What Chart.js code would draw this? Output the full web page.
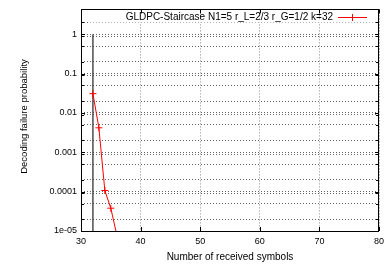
<!DOCTYPE html>
<html>
<head>
<meta charset="utf-8">
<script src="https://cdn.jsdelivr.net/npm/chart.js@4.4.1/dist/chart.umd.min.js"></script>
<style>
  html, body { margin: 0; padding: 0; background: #fff; }
  #wrap { width: 390px; height: 264px; }
</style>
</head>
<body>
<div id="wrap"><canvas id="chart" width="390" height="264"></canvas></div>
<script>
// Data
const received = [32, 33, 34, 35, 36];
const failureProb = [0.031, 0.0042, 0.000107, 0.000038, 0.000008];
const kLineX = [32, 32];
const kLineY = [1, 0.00001];
const seriesLabel = 'GLDPC-Staircase N1=5 r_L=2/3 r_G=1/2 k=32';

const xTicks = [30, 40, 50, 60, 70, 80];
const yTickValues = [1, 0.1, 0.01, 0.001, 0.0001, 0.00001];
const yTickLabels = ['1', '0.1', '0.01', '0.001', '0.0001', '1e-05'];
const yMinorMult = [0.9, 0.5, 0.2];

const FONT = 'Liberation Sans, Arial, sans-serif';

// all grid lines on the y axis: decades plus minor lines
const yGrid = [2];
yTickValues.forEach(v => {
    yGrid.push(v);
    if (v > 0.00001) yMinorMult.forEach(m => yGrid.push(v * m));
});

function isDecade(v) {
    return yTickValues.findIndex(t => Math.abs(Math.log10(v) - Math.log10(t)) < 1e-6);
}

// Frame, inward ticks, legend and y title
const framePlugin = {
    id: 'frame',
    afterDatasetsDraw(chart) {
        const ctx = chart.ctx;
        const a = chart.chartArea;
        const xs = chart.scales.x;
        const ys = chart.scales.y;
        ctx.save();

        // legend
        ctx.fillStyle = '#fff';
        ctx.fillRect(89, 19.5, 284, 3);
        ctx.fillStyle = '#000';
        ctx.font = '10px ' + FONT;
        ctx.textAlign = 'right';
        ctx.textBaseline = 'middle';
        ctx.fillText(chart.data.datasets[0].label, 333, 17);
        ctx.strokeStyle = '#ff0000';
        ctx.lineWidth = 1;
        ctx.beginPath();
        ctx.moveTo(338, 17.5);
        ctx.lineTo(367, 17.5);
        ctx.moveTo(352.5, 14);
        ctx.lineTo(352.5, 21);
        ctx.stroke();

        // ticks
        ctx.strokeStyle = '#000';
        ctx.beginPath();
        xTicks.forEach(v => {
            const px = Math.round(xs.getPixelForValue(v)) + 0.5;
            ctx.moveTo(px, a.bottom);
            ctx.lineTo(px, a.bottom - 4);
            ctx.moveTo(px, a.top);
            ctx.lineTo(px, a.top + 4);
        });
        yGrid.forEach(v => {
            const py = Math.round(ys.getPixelForValue(v)) + 0.5;
            if (py < a.top || py > a.bottom) return;
            const len = isDecade(v) >= 0 ? 4 : 3;
            ctx.moveTo(a.left, py);
            ctx.lineTo(a.left + len, py);
            ctx.moveTo(a.right, py);
            ctx.lineTo(a.right - len, py);
        });
        ctx.stroke();

        // frame
        ctx.strokeRect(Math.round(a.left) + 0.5, Math.round(a.top) + 0.5,
            Math.round(a.right - a.left) - 1, Math.round(a.bottom - a.top));

        // y title
        ctx.translate(24, 116.5);
        ctx.rotate(-Math.PI / 2);
        ctx.textAlign = 'center';
        ctx.font = '9.5px ' + FONT;
        ctx.fillText('Decoding failure probability', 0, 0);
        ctx.restore();
    }
};

const ctx = document.getElementById('chart').getContext('2d');
const chart = new Chart(ctx, {
    type: 'line',
    data: {
        datasets: [{
            label: seriesLabel,
            data: received.map((x, i) => ({ x: x, y: failureProb[i] })),
            borderColor: '#ff0000',
            backgroundColor: '#ff0000',
            borderWidth: 1,
            pointStyle: 'cross',
            pointRadius: 3.5,
            pointBorderWidth: 1,
            tension: 0
        }, {
            label: 'k',
            data: kLineX.map((x, i) => ({ x: x, y: kLineY[i] })),
            borderColor: '#333',
            borderWidth: 1.3,
            pointRadius: 0
        }]
    },
    options: {
        responsive: false,
        animation: false,
        devicePixelRatio: 1,
        layout: { padding: { left: 0, right: 11, top: 8, bottom: 0 } },
        plugins: {
            legend: { display: false },
            tooltip: { enabled: false }
        },
        scales: {
            x: {
                type: 'linear',
                min: 30,
                max: 80,
                afterBuildTicks: s => { s.ticks = xTicks.map(v => ({ value: v })); },
                afterFit: s => { s.height = 33; },
                ticks: { color: '#000', font: { family: FONT, size: 9 }, padding: 5, maxRotation: 0 },
                grid: { color: '#8a8a8a', lineWidth: 1, drawTicks: false },
                border: { display: false, dash: [1, 2] },
                title: {
                    display: true,
                    text: 'Number of received symbols',
                    color: '#000',
                    font: { family: FONT, size: 10 },
                    padding: { top: 0, bottom: 1 }
                }
            },
            y: {
                type: 'logarithmic',
                min: 0.00001,
                max: 4.3,
                afterBuildTicks: s => { s.ticks = yGrid.map(v => ({ value: v })); },
                afterFit: s => { s.width = 81; },
                ticks: {
                    color: '#000',
                    autoSkip: false,
                    font: { family: FONT, size: 9 },
                    padding: 4,
                    callback: v => {
                        const i = isDecade(v);
                        return i >= 0 ? yTickLabels[i] : '';
                    }
                },
                grid: { color: '#666', lineWidth: 1, drawTicks: false },
                border: { display: false, dash: [1, 2] }
            }
        }
    },
    plugins: [framePlugin]
});
</script>
</body>
</html>
